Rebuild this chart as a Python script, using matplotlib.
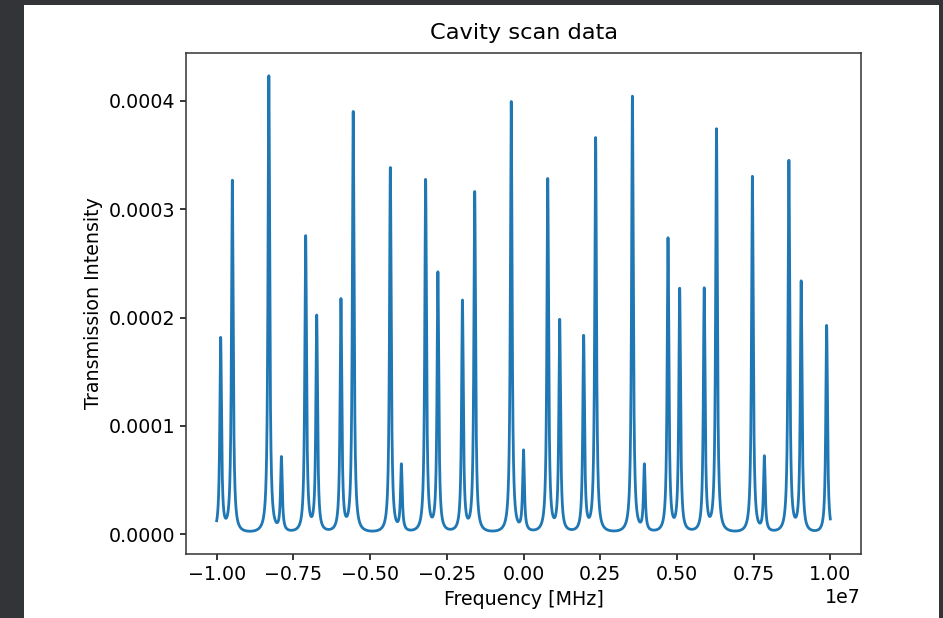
import numpy as np
import matplotlib
matplotlib.use("Agg")
import matplotlib.pyplot as plt
from matplotlib.patches import Rectangle

# Peak centres (Hz, x axis in units shown with 1e7 offset) and peak heights
peak_centers = [-0.987e7, -0.949e7, -0.830e7, -0.789e7, -0.710e7, -0.674e7,
                -0.595e7, -0.555e7, -0.434e7, -0.398e7, -0.319e7, -0.279e7,
                -0.199e7, -0.159e7, -0.040e7, 0.000e7, 0.079e7, 0.118e7,
                0.196e7, 0.235e7, 0.355e7, 0.394e7, 0.471e7, 0.509e7,
                0.589e7, 0.629e7, 0.746e7, 0.785e7, 0.865e7, 0.905e7, 0.988e7]
peak_heights = [1.79e-4, 3.25e-4, 4.22e-4, 0.68e-4, 2.73e-4, 1.99e-4,
                2.14e-4, 3.88e-4, 3.37e-4, 0.61e-4, 3.25e-4, 2.39e-4,
                2.13e-4, 3.14e-4, 3.98e-4, 0.74e-4, 3.26e-4, 1.95e-4,
                1.80e-4, 3.64e-4, 4.03e-4, 0.61e-4, 2.71e-4, 2.24e-4,
                2.24e-4, 3.72e-4, 3.29e-4, 0.69e-4, 3.43e-4, 2.31e-4, 1.92e-4]
peak_hwhm = 3.3e4
freq_range = (-1.0e7, 1.0e7)

freq = np.linspace(freq_range[0], freq_range[1], 20001)
intensity = np.zeros_like(freq)
for c, h in zip(peak_centers, peak_heights):
    intensity += h * peak_hwhm**2 / ((freq - c)**2 + peak_hwhm**2)

W, H = 943, 618
fig = plt.figure(figsize=(W / 100, H / 100), dpi=100)
fig.patch.set_facecolor("#323438")
fig.patches.append(Rectangle((24 / W, 0), (939 - 24) / W, (H - 5) / H,
                             transform=fig.transFigure, facecolor="white",
                             edgecolor="none", zorder=-10))

fs = 13.7
plt.rcParams["font.size"] = fs
ax = fig.add_axes([186 / W, (H - 554) / H, (861 - 186) / W, (554 - 53) / H])
ax.set_zorder(1)
ax.plot(freq, intensity, color="#1f77b4", linewidth=2.0)
ax.set_title("Cavity scan data", fontsize=16.2, pad=10)
ax.set_xlabel("Frequency [MHz]", fontsize=fs)
ax.set_ylabel("Transmission Intensity", fontsize=fs)
ax.tick_params(labelsize=fs, length=4.5, width=1.1)
ax.xaxis.get_offset_text().set_fontsize(fs)
for s in ax.spines.values():
    s.set_linewidth(1.1)
    s.set_color("#333333")

fig.savefig("out.png", dpi=100, facecolor=fig.get_facecolor())
